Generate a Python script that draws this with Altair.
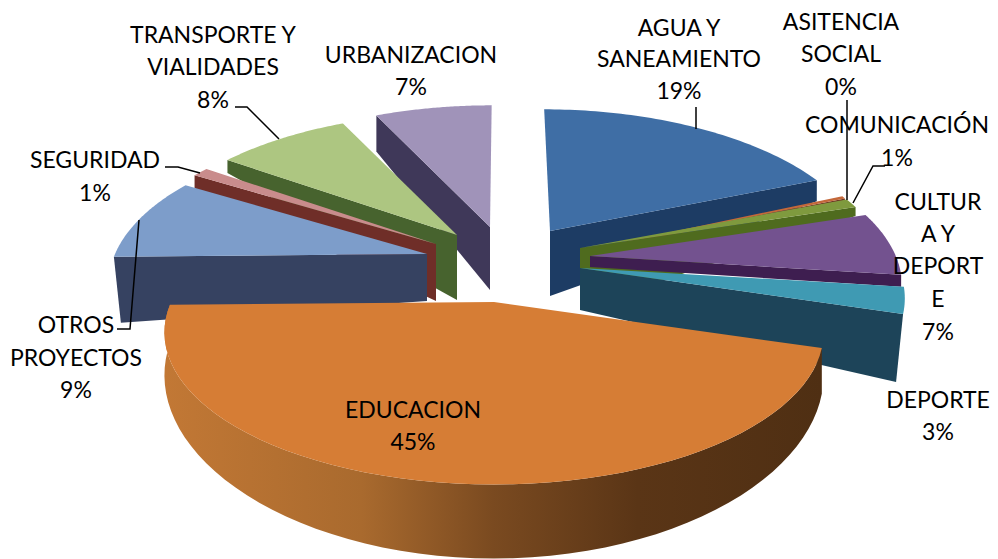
import math
import altair as alt

# ---- chart values ----
categories = ["AGUA Y SANEAMIENTO", "ASITENCIA SOCIAL", "COMUNICACIÓN", "CULTURA Y DEPORTE", "DEPORTE",
              "EDUCACION", "OTROS PROYECTOS", "SEGURIDAD", "TRANSPORTE Y VIALIDADES", "URBANIZACION"]
shares = [18.9, 0.3, 1.0, 6.8, 2.8, 44.9, 9.0, 1.0, 8.2, 7.1]
label_lines = [["AGUA Y", "SANEAMIENTO"], ["ASITENCIA", "SOCIAL"], ["COMUNICACIÓN"],
               ["CULTUR", "A Y", "DEPORT", "E"], ["DEPORTE"], ["EDUCACION"],
               ["OTROS", "PROYECTOS"], ["SEGURIDAD"], ["TRANSPORTE Y", "VIALIDADES"], ["URBANIZACION"]]
top_colors = ["#3f6ea5", "#c4683a", "#7f9a3e", "#73528f", "#3f9ab3", "#d67d35", "#7d9dca", "#c98c8c", "#adc681", "#a093b9"]
wall_colors = ["#1d3c64", "#6e3a24", "#4f6b1e", "#3e1e50", "#1d4459", "#000000", "#364261", "#6f2e28", "#47632e", "#3f3859"]

# ---- presentation: exploded, tilted pie (page pixels) ----
OFFX, OFFY = 8, 8
R, Q, P = 312.0, 146.0, 0.2
apex = [(550, 231), (600, 247), (580, 248), (590, 256), (580, 268), (494, 302), (427, 254), (436, 244), (457, 235), (490, 227)]
xscale = [1.0, 0.90, 0.98, 0.98, 1.02, 1.035, 1.0, 1.0, 1.0, 1.01]
shear = [-7, 0, 0, 0, 0, 0, 0, 0, 0, 2]
# radial wall: which edge, depth at the centre, depth at the rim, lean of the rim's lower end
walls = {0: ("end", 65, 21, 0), 1: ("end", 2, 2, 0), 2: ("end", 60, 9, 0), 3: ("end", 11, 12, 0), 4: ("end", 42, 68, -7),
         6: ("start", 47, 66, 7), 7: ("start", 57, 13, 0), 8: ("start", 65, 13, 0), 9: ("start", 63, 36, 0)}
draw_order = [9, 8, 7, 6, 0, 1, 2, 3, 4]
label_pos = [(679, [29, 60, 92]), (841, [23, 55, 88]), (897, [126, 159]), (938, [203, 235, 267, 300, 333]),
             (938, [401, 433]), (413, [411, 443]), (76, [326, 359, 391]), (95, [161, 194]),
             (213, [36, 68, 101]), (411, [56, 88])]
leaders = [[(696, 107), (696, 129)], [(847, 100), (847, 200)], [(885, 166), (873, 166), (853, 203)],
           [(117, 329), (130, 329), (139, 220)], [(165, 167), (178, 167), (200, 173)],
           [(235, 107), (247, 107), (279, 139)]]

total = sum(shares)
edges = [0.0]
for s in shares:
    edges.append(edges[-1] + s / total * 360)


def rim(i, deg):
    a = math.radians(deg)
    w = 1 + P * math.cos(a)
    return (apex[i][0] + (R * xscale[i] * math.sin(a) + shear[i] * math.cos(a)) / w,
            apex[i][1] - Q * math.cos(a) / w)


def arc(i, n=60):
    return [rim(i, edges[i] + (edges[i + 1] - edges[i]) * k / n) for k in range(n + 1)]


def feat(points, fill=None, geom="Polygon"):
    pts = [[x - OFFX, y - OFFY] for x, y in points]
    if geom == "Polygon":
        geometry = {"type": "Polygon", "coordinates": [pts + [pts[0]]]}
    else:
        geometry = {"type": "LineString", "coordinates": pts}
    return {"type": "Feature", "geometry": geometry, "properties": {"fill": fill}}


back = []
for i in draw_order:
    kind, d0, d1, lean = walls[i]
    deg = edges[i + 1] if kind == "end" else edges[i]
    rx, ry = rim(i, deg)
    ax, ay = apex[i]
    back.append(feat([(ax, ay), (rx, ry), (rx + lean, ry + d1), (ax, ay + d0)], wall_colors[i]))
    back.append(feat([(ax, ay)] + arc(i), top_colors[i]))

EDU = 5
top_arc = arc(EDU)
outer = []
for k, (x, y) in enumerate(top_arc):
    deg = edges[EDU] + (edges[EDU + 1] - edges[EDU]) * k / (len(top_arc) - 1)
    w = 1 + P * math.cos(math.radians(deg))
    outer.append((x, y + 74 * (0.8 / w) ** 3))
edu_wall = [feat(top_arc + outer[::-1])]
edu_top = [feat([apex[EDU]] + top_arc, top_colors[EDU])]
leader_features = [feat(p, geom="LineString") for p in leaders]

text_rows = []
for i, (cx, ys) in enumerate(label_pos):
    lines = label_lines[i] + [f"{round(shares[i])}%"]
    for line, y in zip(lines, ys):
        text_rows.append({"t": line, "x": cx - OFFX, "y": y - OFFY})

proj = alt.Projection(type="identity", scale=1, translate=[0, 0])

back_layer = alt.Chart(alt.Data(values=back)).mark_geoshape(strokeWidth=0).encode(
    fill=alt.Fill("properties.fill:N", scale=None)).project(**proj.to_dict())
wall_layer = alt.Chart(alt.Data(values=edu_wall)).mark_geoshape(
    strokeWidth=0,
    fill=alt.Gradient(gradient="linear", x1=0, x2=1, y1=0, y2=0, stops=[
        alt.GradientStop(color="#c27835", offset=0),
        alt.GradientStop(color="#a96a2e", offset=0.3),
        alt.GradientStop(color="#7a4a20", offset=0.5),
        alt.GradientStop(color="#5a3516", offset=0.72),
        alt.GradientStop(color="#4f2f13", offset=1)])).project(**proj.to_dict())
top_layer = alt.Chart(alt.Data(values=edu_top)).mark_geoshape(strokeWidth=0).encode(
    fill=alt.Fill("properties.fill:N", scale=None)).project(**proj.to_dict())
leader_layer = alt.Chart(alt.Data(values=leader_features)).mark_geoshape(
    filled=False, stroke="#000000", strokeWidth=1.5).project(**proj.to_dict())
text_layer = alt.Chart(alt.Data(values=text_rows)).mark_text(
    font="Lato", fontSize=23, color="#000000", align="center", baseline="middle").encode(
    x=alt.X("x:Q", scale=None, axis=None), y=alt.Y("y:Q", scale=None, axis=None), text="t:N")

chart = alt.layer(back_layer, wall_layer, top_layer, leader_layer, text_layer).properties(
    width=982, height=551, padding=0, autosize=alt.AutoSizeParams(type="none"),
    background="#ffffff").configure_view(stroke=None)
chart.save("out.html", embed_options={"renderer": "svg", "actions": False})
